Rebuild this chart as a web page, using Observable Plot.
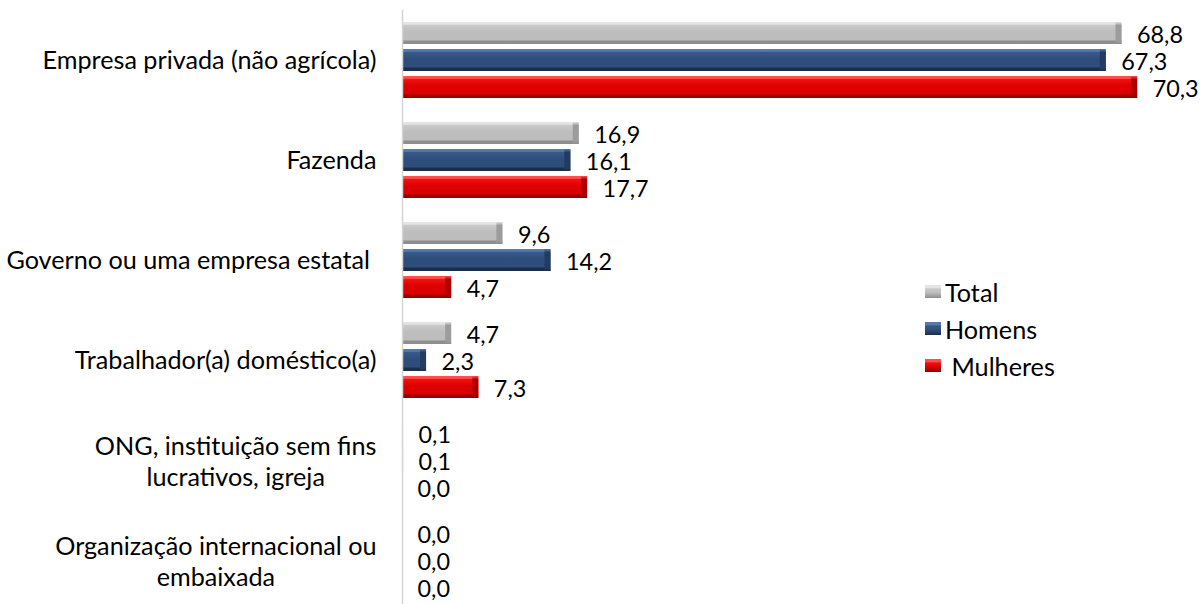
<!DOCTYPE html>
<html>
<head>
<meta charset="utf-8">
<script src="https://cdn.jsdelivr.net/npm/d3@7"></script>
<script src="https://cdn.jsdelivr.net/npm/@observablehq/plot@0.6"></script>
<style>
  html, body { margin: 0; padding: 0; background: #fff; overflow: hidden; }
  #wrap { position: relative; width: 1202px; height: 604px; }
  svg text { white-space: pre; }
  #legend { position: absolute; left: 925px; top: 273px; font-family: Lato, sans-serif; color: #000; }
  .item { display: flex; align-items: center; height: 37px; white-space: pre; }
  .sw { width: 16px; height: 13px; margin-right: 4px; box-sizing: border-box; }
</style>
</head>
<body>
<div id="wrap"></div>
<script>
// ---- data ----
const categories = [
  "Empresa privada (não agrícola)",
  "Fazenda",
  "Governo ou uma empresa estatal ",
  "Trabalhador(a) doméstico(a)",
  "ONG, instituição sem fins\nlucrativos, igreja",
  "Organização internacional ou\nembaixada"
];
const series = ["Total", "Homens", "Mulheres"];
const legendLabels = ["Total", "Homens", " Mulheres"];
const total    = [68.8, 16.9, 9.6, 4.7, 0.1, 0.0];
const homens   = [67.3, 16.1, 14.2, 2.3, 0.1, 0.0];
const mulheres = [70.3, 17.7, 4.7, 7.3, 0.0, 0.0];

// ---- styles ----
const palette = {
  Total:    {hi: "#E4E4E4", up: "#C9C9C9", mid: "#BDBDBD", lo: "#8E8E8E", end: "#9C9C9C"},
  Homens:   {hi: "#587AAA", up: "#37598A", mid: "#2E4D7B", lo: "#1A2E4C", end: "#233B5E"},
  Mulheres: {hi: "#FF5050", up: "#F01010", mid: "#DD0000", lo: "#960000", end: "#AE0000"}
};
const FONT = "Lato, sans-serif";
const ctx = document.createElement("canvas").getContext("2d");
ctx.font = "100px Lato";
const fontSize = Math.round(100 * 334 / ctx.measureText("Empresa privada (não agrícola)").width * 10) / 10;
const valueFontSize = Math.round(100 * 46 / ctx.measureText("68,8").width * 10) / 10;
ctx.font = fontSize + "px Lato";
const lineHeightPx = 31;

const valuesBySeries = [total, homens, mulheres];
const rows = [];
categories.forEach((c, i) => series.forEach((s, j) => rows.push({category: c, series: s, value: valuesBySeries[j][i]})));
const fmt = v => v.toFixed(1).replace(".", ",");

const labelMarks = categories.map(c => {
  const lines = c.split("\n");
  if (lines.length === 1) {
    return Plot.text([c], {fy: d => d, frameAnchor: "left", text: d => d, textAnchor: "end", dx: -26,
      fontSize, fontFamily: FONT, fill: "#000"});
  }
  const maxW = Math.max(...lines.map(l => ctx.measureText(l).width));
  return Plot.text([c], {fy: d => d, frameAnchor: "left", text: d => d, textAnchor: "middle", dx: -26 - maxW / 2,
    lineHeight: lineHeightPx / fontSize, fontSize, fontFamily: FONT, fill: "#000"});
});

const barMarks = series.flatMap((s, i) => [
  Plot.barX(rows.filter(d => d.series === s), {x: "value", y: "series", fy: "category", fill: `url(#body${i})`}),
  Plot.barX(rows.filter(d => d.series === s && d.value >= 1), {x1: "value", x2: "value", insetLeft: -6, y: "series", fy: "category", fill: `url(#end${i})`})
]);

const chart = Plot.plot({
  width: 1202,
  height: 610,
  marginLeft: 402,
  marginRight: 0,
  marginTop: 10,
  marginBottom: 0,
  style: {fontFamily: FONT, background: "#fff"},
  x: {domain: [0, 76.5], axis: null},
  y: {domain: series, axis: null, paddingInner: 0.2, paddingOuter: 0.45},
  fy: {domain: categories, axis: null, padding: 0},
  marks: [
    ...barMarks,
    Plot.ruleX([0], {stroke: "#D4D4D4", strokeWidth: 1.5}),
    Plot.text(rows, {x: "value", y: "series", fy: "category", text: d => fmt(d.value), textAnchor: "start",
      dx: 15, dy: 2, fontSize: valueFontSize, fontFamily: FONT, fill: "#000"}),
    ...labelMarks
  ]
});

// gradients
const ns = "http://www.w3.org/2000/svg";
const defs = document.createElementNS(ns, "defs");
series.forEach((s, i) => {
  const p = palette[s];
  const mk = (id, stops) => {
    const g = document.createElementNS(ns, "linearGradient");
    g.setAttribute("id", id);
    g.setAttribute("x1", "0"); g.setAttribute("y1", "0"); g.setAttribute("x2", "0"); g.setAttribute("y2", "1");
    stops.forEach(([o, c]) => {
      const st = document.createElementNS(ns, "stop");
      st.setAttribute("offset", o); st.setAttribute("stop-color", c);
      g.appendChild(st);
    });
    defs.appendChild(g);
  };
  mk(`body${i}`, [[0, p.hi], [0.1, p.hi], [0.16, p.up], [0.45, p.mid], [0.8, p.mid], [0.88, p.lo], [1, p.lo]]);
  mk(`end${i}`, [[0, p.hi], [0.15, p.end], [0.85, p.end], [1, p.lo]]);
});
chart.insertBefore(defs, chart.firstChild);

const wrap = document.getElementById("wrap");
wrap.appendChild(chart);

// legend
const legend = document.createElement("div");
legend.id = "legend";
legend.style.fontSize = fontSize + "px";
series.forEach((s, i) => {
  const p = palette[s];
  const item = document.createElement("div");
  item.className = "item";
  const sw = document.createElement("div");
  sw.className = "sw";
  sw.style.background = `linear-gradient(to bottom, ${p.hi} 0%, ${p.hi} 20%, ${p.up} 30%, ${p.mid} 60%, ${p.lo} 100%)`;
  const t = document.createElement("span");
  t.textContent = legendLabels[i];
  item.appendChild(sw); item.appendChild(t);
  legend.appendChild(item);
});
wrap.appendChild(legend);
</script>
</body>
</html>
